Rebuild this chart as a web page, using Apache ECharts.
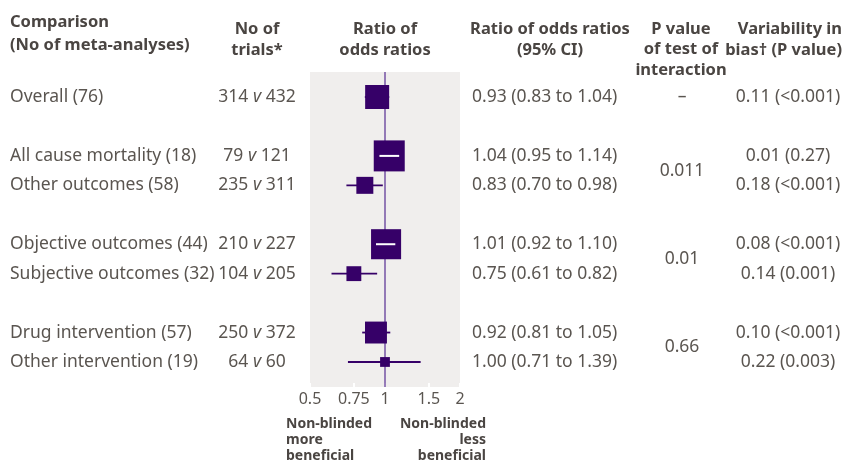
<!DOCTYPE html>
<html><head><meta charset="utf-8">
<script src="https://cdn.jsdelivr.net/npm/echarts@6/dist/echarts.min.js"></script>
<style>html,body{margin:0;padding:0;background:#fff}#c{width:849px;height:461px}</style>
</head><body><div id="c"></div>
<script>
// ---- data (null rows are blank spacer rows) ----
const comparisons = ['Overall (76)', null, 'All cause mortality (18)', 'Other outcomes (58)', null,
  'Objective outcomes (44)', 'Subjective outcomes (32)', null, 'Drug intervention (57)', 'Other intervention (19)'];
const trialsNonBlinded = [314, null, 79, 235, null, 210, 104, null, 250, 64];
const trialsBlinded    = [432, null, 121, 311, null, 227, 205, null, 372, 60];
const estimate = [0.93, null, 1.04, 0.83, null, 1.01, 0.75, null, 0.92, 1.00];
const ciLow    = [0.83, null, 0.95, 0.70, null, 0.92, 0.61, null, 0.81, 0.71];
const ciHigh   = [1.04, null, 1.14, 0.98, null, 1.10, 0.93, null, 1.05, 1.39];
const weights  = [0.60, null, 1.00, 0.30, null, 0.94, 0.23, null, 0.50, 0.10];
const ciText = ['0.93 (0.83 to 1.04)', null, '1.04 (0.95 to 1.14)', '0.83 (0.70 to 0.98)', null,
  '1.01 (0.92 to 1.10)', '0.75 (0.61 to 0.82)', null, '0.92 (0.81 to 1.05)', '1.00 (0.71 to 1.39)'];
const pInteraction = ['–', null, '0.011', null, null, '0.01', null, null, '0.66', null];
const variability = ['0.11 (<0.001)', null, '0.01 (0.27)', '0.18 (<0.001)', null,
  '0.08 (<0.001)', '0.14 (0.001)', null, '0.10 (<0.001)', '0.22 (0.003)'];
const tickValues = [0.5, 0.75, 1, 1.5, 2];

// ---- styling ----
const FONT = '"Noto Sans", sans-serif';
const TXT = '#5a5550';
const HDR = '#4a4542';
const PURPLE = '#360068';
const REFLINE = '#7452a3';
const BODY = 17.5;

const forestData = [];
const tableData = [];
comparisons.forEach((c, i) => {
  if (c === null) return;
  forestData.push([Math.log2(estimate[i]), i, Math.log2(ciLow[i]), Math.log2(ciHigh[i]), weights[i]]);
  tableData.push([0, i]);
});

function renderForest(params, api) {
  const row = api.value(1);
  const c = api.coord([api.value(0), row]);
  const l = api.coord([api.value(2), row]);
  const h = api.coord([api.value(3), row]);
  const side = 31 * Math.sqrt(api.value(4));
  const inside = l[0] >= c[0] - side / 2 && h[0] <= c[0] + side / 2;
  const line = { type: 'line', shape: { x1: l[0], y1: c[1], x2: h[0], y2: c[1] },
    style: { stroke: inside ? '#ffffff' : PURPLE, lineWidth: inside ? 2 : 1.8 } };
  const rect = { type: 'rect', shape: { x: c[0] - side / 2, y: c[1] - side / 2, width: side, height: side },
    style: { fill: PURPLE } };
  return { type: 'group', children: inside ? [rect, line] : [line, rect] };
}

function txt(text, x, y, align, extra) {
  return { type: 'text', style: Object.assign({ text: text, x: x, y: y, align: align, verticalAlign: 'middle',
    fill: TXT, fontSize: BODY, fontFamily: FONT }, extra || {}) };
}

function renderTable(params, api) {
  const i = api.value(1);
  const y = api.coord([0, i])[1];
  const ch = [];
  ch.push(txt(comparisons[i], 10, y, 'left'));
  ch.push(txt('{n|' + trialsNonBlinded[i] + '} {v|v} {n|' + trialsBlinded[i] + '}', 257, y, 'center', {
    rich: { n: { fontSize: BODY, fontFamily: FONT, fill: TXT }, v: { fontSize: BODY, fontFamily: FONT, fill: TXT, fontStyle: 'italic' } } }));
  ch.push(txt(ciText[i], 472, y, 'left'));
  if (pInteraction[i] !== null) {
    const spans = (i + 1 < comparisons.length && comparisons[i + 1] !== null && pInteraction[i + 1] === null);
    const py = spans ? api.coord([0, i + 0.5])[1] : y;
    ch.push(txt(pInteraction[i], 682, py, 'center'));
  }
  ch.push(txt(variability[i], 788, y, 'center'));
  return { type: 'group', children: ch };
}

function renderRef(params, api) {
  const a = api.coord([0, -0.85]);
  const b = api.coord([0, 9.85]);
  return { type: 'line', shape: { x1: a[0], y1: a[1], x2: b[0], y2: b[1] }, style: { stroke: REFLINE, lineWidth: 1.5 } };
}

function hdr(text, x, y, align, lh) {
  return { type: 'text', x: x, y: y, style: { text: text, align: align, verticalAlign: 'top', fill: HDR,
    fontSize: 16.5, fontWeight: 'bold', fontFamily: FONT, lineHeight: lh || 21 } };
}

const chart = echarts.init(document.getElementById('c'), null, { renderer: 'canvas' });
chart.setOption({
  animation: false,
  backgroundColor: '#ffffff',
  grid: { left: 310, right: 389, top: 72, bottom: 74, show: true, backgroundColor: '#f0eeed', borderWidth: 0 },
  xAxis: {
    type: 'value', min: -1, max: 1, position: 'bottom',
    axisLine: { show: false, onZero: false },
    splitLine: { show: false },
    axisTick: { show: true, inside: true, length: 4, lineStyle: { color: '#ffffff', width: 2 }, customValues: tickValues.map(Math.log2) },
    axisLabel: { color: TXT, fontSize: 16, fontFamily: FONT, margin: 4, customValues: tickValues.map(Math.log2),
      formatter: v => String(Math.round(Math.pow(2, v) * 100) / 100) }
  },
  yAxis: { type: 'value', min: -0.85, max: 9.85, inverse: true, show: false },
  graphic: [
    hdr('Comparison\n(No of meta-analyses)', 10, 11, 'left', 23),
    hdr('No of\ntrials*', 257, 19, 'center'),
    hdr('Ratio of\nodds ratios', 385, 19, 'center'),
    hdr('Ratio of odds ratios\n(95% CI)', 550, 19, 'center'),
    hdr('P value\nof test of\ninteraction', 681, 19, 'center', 20.5),
    hdr('Variability in\nbias† (P value)', 842, 19, 'right'),
    { type: 'text', x: 286, y: 416, style: { text: 'Non-blinded\nmore\nbeneficial', align: 'left', verticalAlign: 'top',
      fill: HDR, fontSize: 14, fontWeight: 'bold', fontFamily: FONT, lineHeight: 16 } },
    { type: 'text', x: 486, y: 416, style: { text: 'Non-blinded\nless\nbeneficial', align: 'right', verticalAlign: 'top',
      fill: HDR, fontSize: 14, fontWeight: 'bold', fontFamily: FONT, lineHeight: 16 } }
  ],
  series: [
    { type: 'custom', z: 1, clip: false, renderItem: renderRef, data: [[0, 0]] },
    { type: 'custom', z: 3, clip: false, renderItem: renderForest, encode: { x: [0, 2, 3], y: 1 }, data: forestData },
    { type: 'custom', z: 4, clip: false, renderItem: renderTable, encode: { x: 0, y: 1 }, data: tableData }
  ]
});
</script></body></html>
